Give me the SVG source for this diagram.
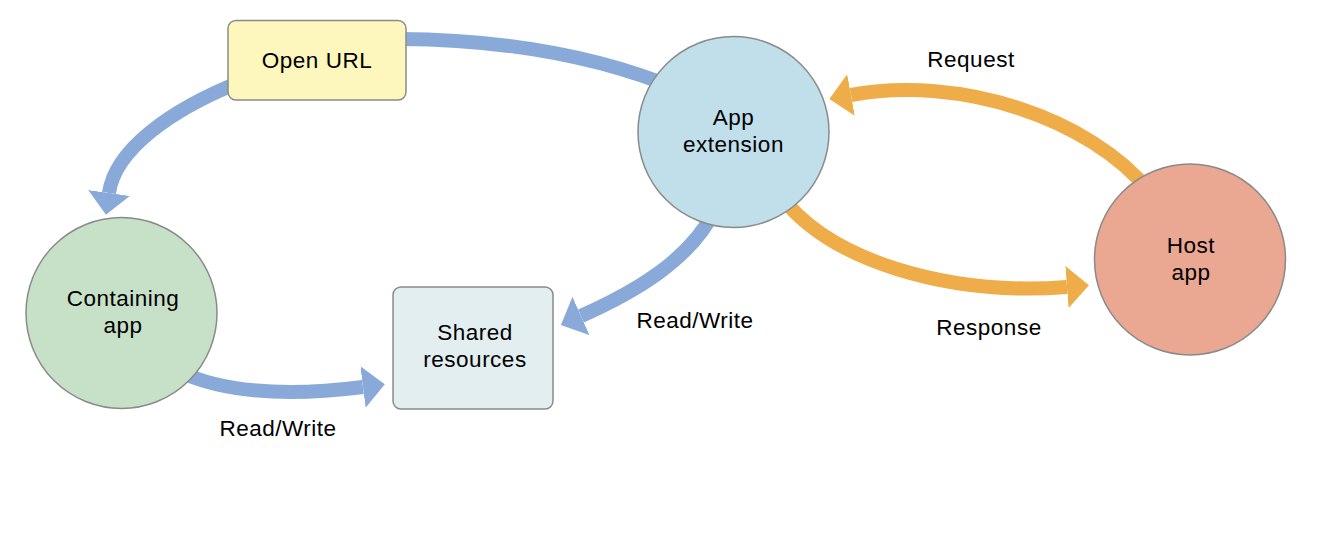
<svg xmlns="http://www.w3.org/2000/svg" width="1344" height="538" viewBox="0 0 1344 538">
<style>
.bg{fill:#ffffff}
.node{stroke:#8a8a8a;stroke-width:1.5}
.blue{fill:none;stroke:#89aad9;stroke-width:14}
.orange{fill:none;stroke:#efad4a;stroke-width:14}
text{font-family:"Liberation Sans",Arial,Helvetica,sans-serif;font-size:22.5px;fill:#000;text-anchor:middle;letter-spacing:0.5px}
</style>
<defs>
<marker id="ab" viewBox="0 0 22 42" refX="0" refY="21" markerWidth="22" markerHeight="42" markerUnits="userSpaceOnUse" orient="auto">
<path d="M0,0 L22,21 L0,42 z" fill="#89aad9"/>
</marker>
<marker id="ao" viewBox="0 0 22 42" refX="0" refY="21" markerWidth="22" markerHeight="42" markerUnits="userSpaceOnUse" orient="auto">
<path d="M0,0 L22,21 L0,42 z" fill="#efad4a"/>
</marker>
</defs>
<rect class="bg" x="0" y="0" width="1344" height="538"/>
<g id="connectors">
<path class="blue" d="M 680 90 Q 560 40 400 39"/>
<path class="blue" d="M 240 82 C 170 110 115 150 109 193" marker-end="url(#ab)"/>
<path class="blue" d="M 180 372 C 230 395 300 395 363 387" marker-end="url(#ab)"/>
<path class="blue" d="M 715 210 C 690 260 635 292 581 316" marker-end="url(#ab)"/>
<path class="orange" d="M 1150 192 C 1090 118 960 75 851 95" marker-end="url(#ao)"/>
<path class="orange" d="M 780 195 C 830 262 950 296 1067 287" marker-end="url(#ao)"/>
</g>
<g id="label-request"><text x="971" y="67">Request</text></g>
<g id="label-response"><text x="989" y="335">Response</text></g>
<g id="label-rw-ext"><text x="695" y="328">Read/Write</text></g>
<g id="label-rw-cont"><text x="278" y="436">Read/Write</text></g>
<g id="open-url">
<rect class="node" x="228" y="20.5" width="178" height="79.5" rx="8" fill="#fdf7be"/>
<text x="317" y="68">Open URL</text>
</g>
<g id="app-extension">
<circle class="node" cx="733.5" cy="132" r="95.5" fill="#c0dfea"/>
<text x="733.5" y="125">App</text>
<text x="733.5" y="152">extension</text>
</g>
<g id="containing-app">
<circle class="node" cx="121.5" cy="313" r="95.5" fill="#c7e1c8"/>
<text x="123" y="306">Containing</text>
<text x="123" y="333">app</text>
</g>
<g id="host-app">
<circle class="node" cx="1190" cy="259.5" r="95.5" fill="#eaa792"/>
<text x="1191" y="253">Host</text>
<text x="1191" y="280">app</text>
</g>
<g id="shared-resources">
<rect class="node" x="393" y="287" width="160" height="122" rx="8" fill="#e3eef0"/>
<text x="475" y="340">Shared</text>
<text x="475" y="367">resources</text>
</g>
</svg>
